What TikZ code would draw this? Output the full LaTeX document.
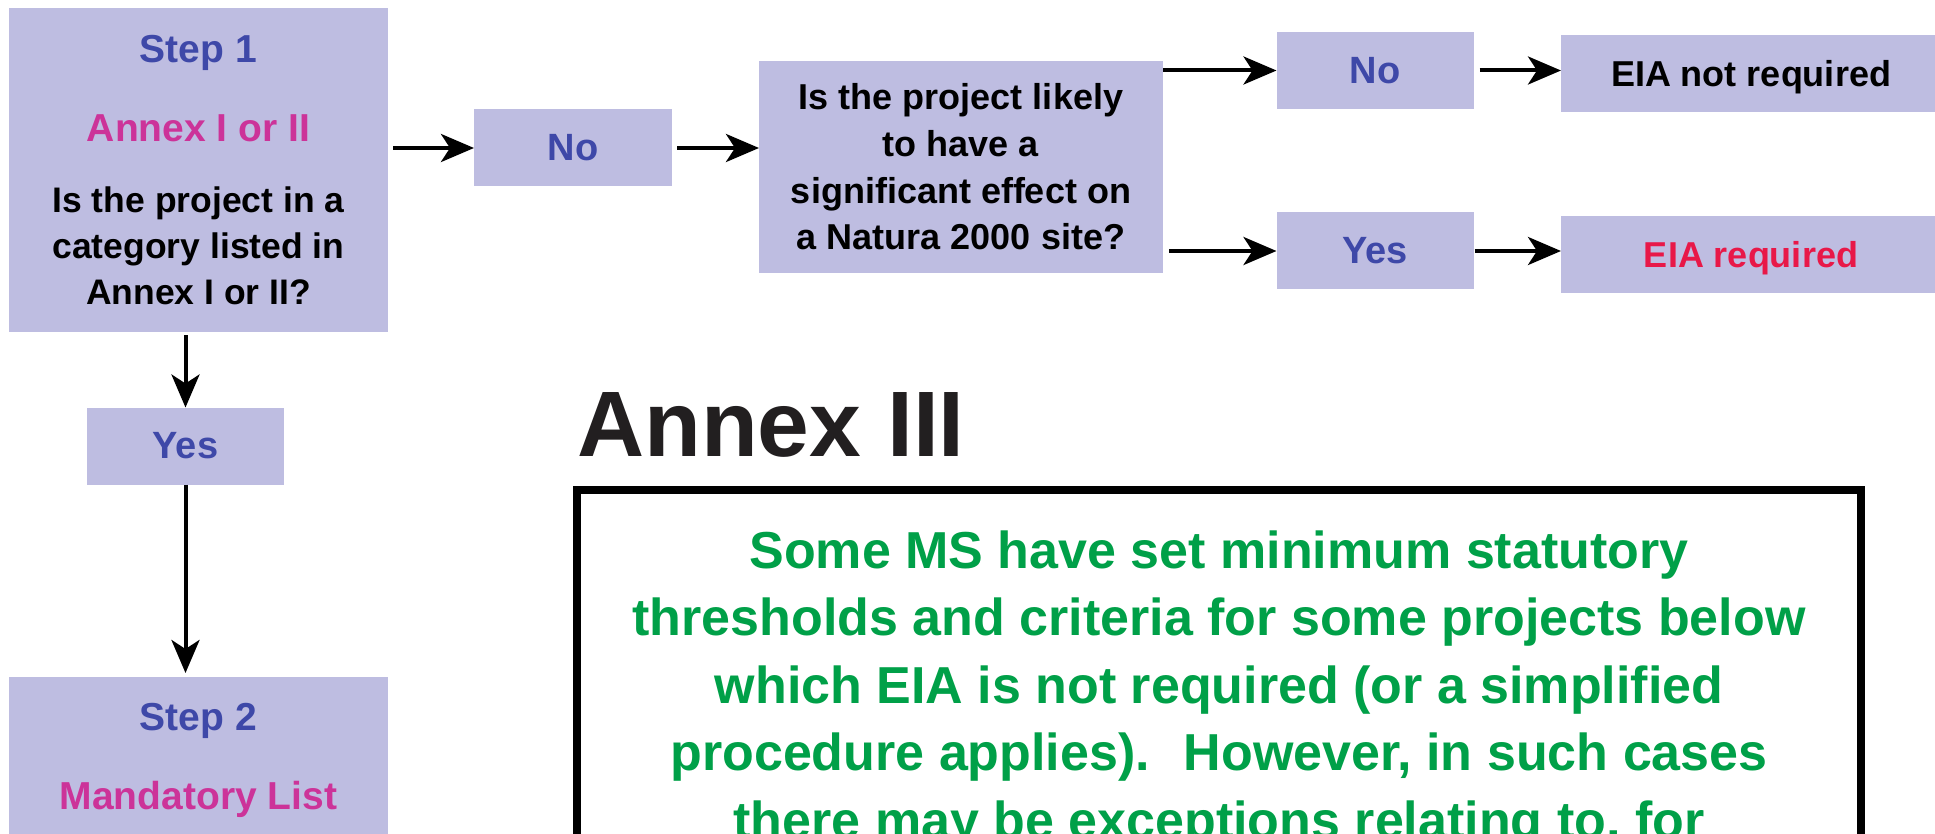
\documentclass[tikz,border=0pt]{standalone}
\usepackage{fontspec}
\setmainfont{Liberation Sans}
\usetikzlibrary{arrows.meta,positioning}
\definecolor{boxfill}{RGB}{190,189,225}
\definecolor{stepblue}{RGB}{62,72,168}
\definecolor{annexpink}{RGB}{204,51,153}
\definecolor{eiared}{RGB}{232,24,72}
\definecolor{notegreen}{RGB}{0,160,72}
\definecolor{headblack}{RGB}{34,31,32}
\begin{document}
\begin{tikzpicture}[x=1pt,y=-1pt,
    box/.style={fill=boxfill,inner sep=0pt,outer sep=0pt},
    ans/.style={box,minimum width=197pt,minimum height=77pt,text=stepblue,font=\bfseries\fontsize{38}{38}\selectfont},
    eia/.style={box,minimum width=380pt,minimum height=77pt,text depth=0pt,font=\bfseries\fontsize{36}{36}\selectfont},
    title/.style={anchor=base,inner sep=0pt,font=\bfseries\fontsize{39}{39}\selectfont},
    arr/.style={line width=4pt,-{Stealth[length=33pt,width=28pt,inset=9pt]}}]
  \useasboundingbox (0,0) rectangle (1935,834);
  \clip (0,0) rectangle (1935,834);
  \fill[white] (0,0) rectangle (1935,834);
  % step 1
  \node[box,minimum width=379pt,minimum height=324pt] (step1) at (198.5,170) {};
  \node[title,text=stepblue] (s1step) at (198.5,63) {Step 1};
  \node[title,text=annexpink] (s1annex) at (198.5,142) {Annex I or II};
  \node[anchor=base,inner sep=0pt,align=center,font=\bfseries\fontsize{35.5}{46}\selectfont] (s1q) at (198.5,305) {Is the project in a\\category listed in\\Annex I or II?};
  \node[ans] (yes1) at (185.5,446) {Yes};
  % step 2
  \node[box,minimum width=379pt,minimum height=324pt] (step2) at (198.5,839) {};
  \node[title,text=stepblue] (s2step) at (198.5,730) {Step 2};
  \node[title,text=annexpink] (s2list) at (198.5,809) {Mandatory List};
  % Natura 2000 branch
  \node[ans,minimum width=198pt] (no1) at (573,148) {No};
  \node[box,minimum width=404pt,minimum height=212pt,align=center,font=\bfseries\fontsize{36}{46.7}\selectfont] (quest) at (961,167) {Is the project likely\\to have a\\significant effect on\\a Natura 2000 site?};
  \node[ans] (no2) at (1375,70.5) {No};
  \node[ans] (yes2) at (1375,251) {Yes};
  \node[eia] (eianot) at (1751,73.5) {EIA not required};
  \node[eia,text=eiared] (eiareq) at (1751,254.5) {EIA required};
  \draw[arr,shorten <=5pt] (step1.east |- no1.west) -- (no1.west);
  \draw[arr,shorten <=5pt] (no1.east) -- (no1.east -| quest.west);
  \draw[arr] (quest.east |- no2.west) -- (no2.west);
  \draw[arr,shorten <=6pt] (quest.east |- yes2.west) -- (yes2.west);
  \draw[arr,shorten <=6pt] (no2.east) -- (no2.east -| eianot.west);
  \draw[arr,shorten <=1pt] (yes2.east) -- (yes2.east -| eiareq.west);
  \draw[arr,shorten <=3pt] (step1.south -| yes1.north) -- (yes1.north);
  \draw[arr,shorten >=4pt] (yes1.south) -- (yes1.south |- step2.north);
  % annex III
  \node[anchor=base west,inner sep=0pt,text=headblack,font=\bfseries\fontsize{93}{93}\selectfont] (annexiii) at (577,456) {Annex III};
  \draw[line width=8pt] (577,490) rectangle (1861,1000);
  \node[anchor=base,inner sep=0pt,align=center,text=notegreen,font=\bfseries\fontsize{52}{67.5}\selectfont] (note) at (1219,838) {Some MS have set minimum statutory\\thresholds and criteria for some projects below\\which EIA is not required (or a simplified\\procedure applies).~ However, in such cases\\there may be exceptions relating to, for};
\end{tikzpicture}
\end{document}
